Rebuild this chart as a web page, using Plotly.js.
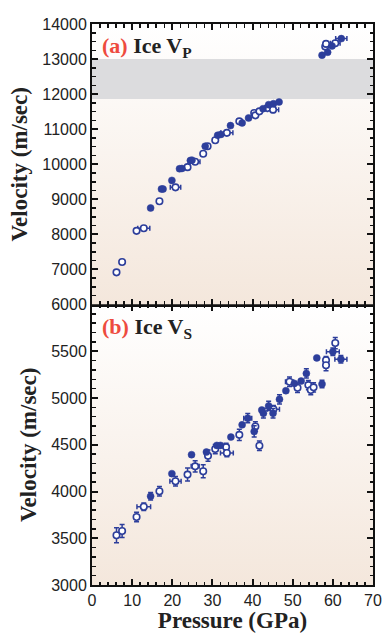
<!DOCTYPE html>
<html>
<head>
<meta charset="utf-8">
<script src="https://cdn.plot.ly/plotly-3.0.1.min.js"></script>
<style>
html,body{margin:0;padding:0;background:#fff;}
#chart{width:385px;height:633px;}
</style>
</head>
<body>
<div id="chart"></div>
<script>
// ---------- Data: (a) Ice Vp ----------
const vpFilledP  = [14.6, 17.3, 17.7, 19.9, 21.8, 22.4, 24.5, 24.9, 28.2, 31.3, 32.1, 34.5, 37.4, 39.0, 42.6, 44.0, 45.2, 46.6, 57.3, 58.7, 59.8, 62.1];
const vpFilledV  = [8753, 9293, 9293, 9540, 9872, 9880, 10108, 10117, 10514, 10827, 10850, 11102, 11179, 11320, 11585, 11699, 11727, 11776, 13110, 13196, 13375, 13583];
const vpFilledPe = [0, 0, 0, 0, 0, 0, 0, 0, 0, 0, 0, 0, 0, 0, 0, 0, 0, 0, 0, 0, 0, 1.4];

const vpOpenP  = [6.1, 7.5, 11.1, 12.9, 16.8, 20.8, 23.8, 25.7, 27.7, 28.8, 30.7, 33.6, 36.7, 40.4, 40.7, 41.7, 43.7, 45.1, 58.1, 58.3, 60.6];
const vpOpenV  = [6917, 7210, 8100, 8176, 8943, 9341, 9918, 10071, 10298, 10514, 10685, 10895, 11224, 11463, 11395, 11509, 11605, 11557, 13355, 13432, 13450];
const vpOpenPe = [0, 0, 0, 1.5, 0, 1.3, 0, 1.2, 0, 0, 0, 1.5, 0, 0, 0, 0, 0, 1.4, 0, 0, 1.2];
const vpOpenVe = [0, 0, 0, 0, 0, 0, 0, 0, 0, 0, 0, 0, 0, 0, 0, 0, 0, 80, 0, 0, 0];

// ---------- Data: (b) Ice Vs ----------
const vsFilledP  = [14.6, 19.9, 24.8, 28.5, 31.1, 32.0, 34.6, 37.4, 38.8, 40.4, 42.3, 42.7, 44.0, 45.1, 46.7, 48.3, 50.4, 52.1, 53.4, 56.0, 57.3, 60.0, 62.0];
const vsFilledV  = [3950, 4191, 4394, 4422, 4493, 4493, 4582, 4713, 4784, 4642, 4872, 4837, 4915, 4837, 4986, 5078, 5156, 5181, 5263, 5429, 5149, 5495, 5415];
const vsFilledPe = [0, 0, 0, 0, 0, 0, 0, 0, 1.0, 0, 0, 0, 0, 0, 0, 0, 0, 0, 0, 0, 0, 1.6, 1.5];
const vsFilledVe = [40, 0, 0, 0, 0, 0, 0, 0, 50, 60, 0, 50, 50, 50, 50, 0, 0, 0, 50, 0, 40, 40, 40];

const vsOpenP  = [6.1, 7.5, 11.1, 12.9, 16.8, 20.8, 23.8, 25.7, 27.7, 28.9, 30.7, 33.4, 33.6, 36.7, 40.7, 41.7, 45.2, 49.2, 51.2, 53.9, 54.5, 55.2, 58.3, 58.3, 60.6];
const vsOpenV  = [3532, 3578, 3727, 3837, 4003, 4110, 4181, 4269, 4216, 4383, 4454, 4475, 4411, 4606, 4695, 4489, 4880, 5174, 5110, 5138, 5085, 5114, 5404, 5351, 5588];
const vsOpenPe = [0, 0, 0, 1.7, 0, 1.4, 0, 1.0, 0, 0, 0, 0, 1.6, 0, 0, 0, 1.5, 1.0, 0, 0, 0, 0, 0, 0, 0];
const vsOpenVe = [80, 70, 50, 40, 50, 50, 70, 60, 70, 60, 50, 40, 40, 60, 50, 50, 40, 50, 50, 50, 50, 50, 40, 60, 60];

// Reference band (a)
const bandLow = 11860, bandHigh = 13000;
const xRange = [0, 70];
const vpRange = [6000, 14000];
const vsRange = [3000, 6000];

const blue = '#2d3e9b';
const serif = 'Liberation Serif, Times New Roman, serif';
const sans = 'Liberation Sans, Arial, sans-serif';

function bg(xa, ya, yr) {
  return {
    x: [xRange[0], xRange[1], xRange[1], xRange[0], xRange[0]],
    y: [yr[0], yr[0], yr[1], yr[1], yr[0]],
    xaxis: xa, yaxis: ya, mode: 'lines', fill: 'toself',
    line: {width: 0}, hoverinfo: 'skip', showlegend: false,
    fillgradient: {type: 'vertical', colorscale: [[0, '#f4e7dc'], [1, '#ffffff']]}
  };
}

function pts(xa, ya, P, V, Pe, Ve, open) {
  const t = {
    x: P, y: V, xaxis: xa, yaxis: ya, mode: 'markers', showlegend: false,
    marker: open ? {size: 6.5, color: '#ffffff', line: {color: blue, width: 1.6}}
                 : {size: 7, color: blue, line: {color: blue, width: 0.5}},
    error_x: {type: 'data', array: Pe, visible: true, color: blue, thickness: 1.5, width: 2.5}
  };
  if (Ve) t.error_y = {type: 'data', array: Ve, visible: true, color: blue, thickness: 1.5, width: 2.5};
  return t;
}

const traces = [
  bg('x2', 'y2', vpRange),
  {
    x: [xRange[0], xRange[1], xRange[1], xRange[0], xRange[0]],
    y: [bandLow, bandLow, bandHigh, bandHigh, bandLow],
    xaxis: 'x2', yaxis: 'y2', mode: 'lines', fill: 'toself', fillcolor: '#dcdcde',
    line: {width: 0}, hoverinfo: 'skip', showlegend: false
  },
  bg('x', 'y', vsRange),
  pts('x2', 'y2', vpOpenP, vpOpenV, vpOpenPe, vpOpenVe, true),
  pts('x2', 'y2', vpFilledP, vpFilledV, vpFilledPe, null, false),
  pts('x', 'y', vsOpenP, vsOpenV, vsOpenPe, vsOpenVe, true),
  pts('x', 'y', vsFilledP, vsFilledV, vsFilledPe, vsFilledVe, false)
];

const axCommon = {
  showline: true, linecolor: '#111', linewidth: 2, mirror: 'allticks',
  ticks: 'inside', ticklen: 6, tickwidth: 2, tickcolor: '#111',
  showgrid: false, zeroline: false, tickformat: 'd', separatethousands: false,
  tickfont: {family: sans, size: 16, color: '#222'}
};

const layout = {
  width: 385, height: 633,
  margin: {l: 92, r: 12, t: 24, b: 48},
  paper_bgcolor: '#ffffff', plot_bgcolor: 'rgba(0,0,0,0)',
  showlegend: false,
  xaxis: Object.assign({}, axCommon, {
    range: xRange, dtick: 10, tick0: 0, anchor: 'y', domain: [0, 1],
    minor: {dtick: 2, ticks: 'inside', ticklen: 3.5, tickwidth: 1.5, tickcolor: '#111'},
    title: {text: '<b>Pressure (GPa)</b>', font: {family: serif, size: 23, color: '#222'}, standoff: 4}
  }),
  xaxis2: Object.assign({}, axCommon, {
    range: xRange, dtick: 10, tick0: 0, anchor: 'y2', matches: 'x', showticklabels: false,
    minor: {dtick: 2, ticks: 'inside', ticklen: 3.5, tickwidth: 1.5, tickcolor: '#111'}
  }),
  yaxis: Object.assign({}, axCommon, {
    range: vsRange, domain: [0, 0.5], anchor: 'x',
    tickvals: [3000, 3500, 4000, 4500, 5000, 5500],
    ticktext: ['3000', '3500', '4000', '4500', '5000', '5500'],
    minor: {dtick: 100, tick0: 3000, ticks: 'inside', ticklen: 3.5, tickwidth: 1.5, tickcolor: '#111'},
    title: {text: '<b>Velocity (m/sec)</b>', font: {family: serif, size: 23, color: '#222'}, standoff: 8}
  }),
  yaxis2: Object.assign({}, axCommon, {
    range: vpRange, domain: [0.5, 1], anchor: 'x2',
    tickvals: [6000, 7000, 8000, 9000, 10000, 11000, 12000, 13000, 14000],
    ticktext: ['6000', '7000', '8000', '9000', '10000', '11000', '12000', '13000', '14000'],
    minor: {dtick: 250, tick0: 6000, ticks: 'inside', ticklen: 3.5, tickwidth: 1.5, tickcolor: '#111'},
    title: {text: '<b>Velocity (m/sec)</b>', font: {family: serif, size: 23, color: '#222'}, standoff: 8}
  }),
  annotations: [
    {xref: 'x2 domain', yref: 'y2 domain', x: 0.03, y: 0.975, xanchor: 'left', yanchor: 'top',
     showarrow: false, font: {family: serif, size: 22, color: '#222'},
     text: '<b><span style="color:#ee4b3e">(a)</span> Ice V<sub>P</sub></b>'},
    {xref: 'x domain', yref: 'y domain', x: 0.03, y: 0.975, xanchor: 'left', yanchor: 'top',
     showarrow: false, font: {family: serif, size: 22, color: '#222'},
     text: '<b><span style="color:#ee4b3e">(b)</span> Ice V<sub>S</sub></b>'}
  ]
};

Plotly.newPlot('chart', traces, layout, {displayModeBar: false, staticPlot: true});
</script>
</body>
</html>
